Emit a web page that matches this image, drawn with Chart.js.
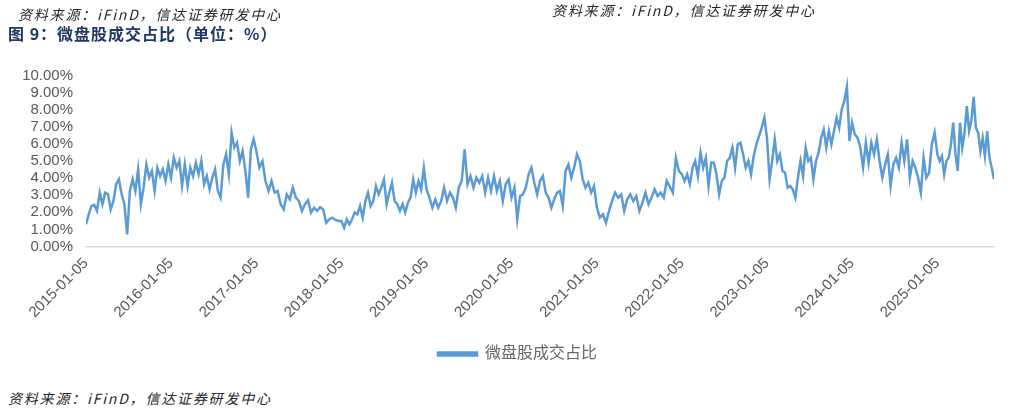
<!DOCTYPE html>
<html lang="zh">
<head>
  <meta charset="UTF-8" />
  <title>微盘股成交占比</title>
  <script src="https://cdn.jsdelivr.net/npm/chart.js"></script>
  <style>
    body {
      margin: 0;
      width: 1035px;
      height: 413px;
      position: relative;
      overflow: hidden;
      background: #fff;
      font-family: 'Liberation Sans', 'Noto Sans CJK SC', sans-serif;
    }
    .src {
      position: absolute;
      font-family: 'Noto Sans CJK SC', sans-serif;
      font-size: 14px;
      font-style: italic;
      letter-spacing: 1.8px;
      color: #262626;
      line-height: 18px;
      white-space: nowrap;
      z-index: 2;
    }
    .title {
      position: absolute;
      font-family: 'Noto Sans CJK SC', sans-serif;
      font-size: 16px;
      font-weight: bold;
      letter-spacing: 1px;
      color: #1f3864;
      line-height: 20px;
      white-space: nowrap;
      z-index: 2;
    }
    #wrap {
      position: absolute;
      left: 0;
      top: 0;
      width: 1035px;
      height: 372px;
    }
  </style>
</head>
<body>
  <div class="src" style="left:18px; top:5px;">资料来源：iFinD，信达证券研发中心</div>
  <div class="src" style="left:552px; top:1px;">资料来源：iFinD，信达证券研发中心</div>
  <div class="title" style="left:8px; top:23px;">图 9：微盘股成交占比（单位：%）</div>
  <div id="wrap"><canvas id="shareChart"></canvas></div>
  <div class="src" style="left:8px; top:389px;">资料来源：iFinD，信达证券研发中心</div>

  <script>
    // Readings in %, in order through each year (Jan 5 to next Jan 5)
    const y2015 = [1.30, 1.88, 2.37, 2.43, 2.08, 3.15, 2.47, 3.15, 3.05, 2.17, 2.66, 3.64, 3.93, 3.05, 2.47, 0.71, 3.25, 3.93, 3.25, 4.51, 2.47, 3.44, 4.80, 4.03, 4.42, 3.25, 4.61, 4.12, 4.51, 3.83, 4.80];
    const y2016 = [4.03, 5.19, 4.61, 5.00, 3.54, 4.80, 3.54, 4.61, 4.12, 4.90, 4.22, 5.00, 3.64, 4.12, 3.34, 4.03, 4.51, 3.25, 2.86, 4.80, 5.39, 4.22, 6.66, 5.78, 6.07, 5.00, 5.58, 4.42, 2.86, 5.68, 6.27];
    const y2017 = [5.58, 4.61, 5.00, 3.83, 3.25, 3.83, 3.15, 3.25, 2.47, 2.17, 3.05, 2.76, 3.44, 2.86, 2.66, 2.08, 2.47, 2.70, 1.98, 2.27, 2.08, 2.30, 2.17, 1.39, 1.60, 1.69, 1.55, 1.49];
    const y2018 = [1.49, 1.10, 1.59, 1.30, 1.59, 1.98, 1.88, 2.37, 1.69, 2.66, 3.15, 2.37, 2.66, 3.54, 3.05, 3.44, 3.93, 2.47, 3.15, 3.73, 2.66, 2.47, 2.08, 2.47, 1.98, 2.56, 2.86, 3.93, 3.15, 3.83, 3.34, 4.61];
    const y2019 = [3.34, 2.86, 2.27, 2.76, 2.27, 2.66, 3.44, 2.66, 3.15, 2.86, 2.27, 3.44, 3.83, 5.68, 3.64, 4.12, 3.44, 4.03, 3.73, 4.12, 3.15, 4.03, 3.25, 4.12, 3.25, 3.83, 2.66, 3.64, 3.93];
    const y2020 = [2.86, 3.44, 1.59, 2.95, 3.05, 3.44, 4.22, 4.61, 3.73, 3.05, 3.83, 4.12, 3.15, 2.86, 2.27, 2.76, 3.15, 3.25, 2.37, 4.42, 4.80, 4.03, 4.61, 5.39, 5.00, 3.93, 3.44, 3.73, 3.15, 3.54];
    const y2021 = [2.27, 1.69, 1.88, 1.39, 2.08, 2.66, 3.15, 2.86, 3.05, 2.08, 2.76, 3.05, 2.66, 2.95, 2.08, 2.56, 3.15, 2.47, 2.86, 3.34, 2.95, 3.15, 2.86, 3.83, 3.50, 3.15, 5.19, 4.42];
    const y2022 = [4.22, 3.83, 4.22, 3.64, 4.61, 5.00, 4.12, 5.49, 4.61, 5.19, 3.54, 4.90, 4.90, 4.22, 3.05, 3.83, 4.03, 5.00, 5.19, 5.78, 4.61, 5.98, 6.07, 5.39, 4.61, 5.00, 4.22, 5.29, 5.98, 6.46, 6.95, 7.53];
    const y2023 = [6.36, 3.93, 5.00, 6.27, 5.00, 5.39, 4.42, 4.32, 3.44, 3.54, 3.34, 2.86, 4.03, 5.00, 4.12, 5.78, 5.00, 5.19, 3.93, 5.00, 5.49, 6.36, 6.85, 5.78, 6.75, 5.98, 6.75, 7.53, 6.95, 8.02, 8.51, 9.33, 6.17];
    const y2024 = [7.24, 6.56, 6.36, 5.78, 4.61, 6.07, 4.90, 6.07, 5.39, 6.27, 5.00, 4.03, 4.80, 5.39, 3.54, 4.80, 5.19, 4.61, 6.07, 5.00, 6.27, 4.03, 5.00, 4.61, 4.03, 3.15, 5.19, 4.03, 4.32, 5.98, 6.66];
    const y2025 = [5.39, 5.00, 5.29, 4.22, 5.00, 5.19, 5.98, 7.24, 5.39, 4.42, 7.24, 5.78, 6.66, 8.21, 6.75, 7.34, 8.75, 6.95, 6.66, 5.58, 6.36, 5.29, 6.75, 5.19, 4.61, 3.93];

    const startDate = '2015-01-05';
    const lastDate = '2025-09-05';
    const tickLabels = ['2015-01-05', '2016-01-05', '2017-01-05', '2018-01-05', '2019-01-05', '2020-01-05',
                        '2021-01-05', '2022-01-05', '2023-01-05', '2024-01-05', '2025-01-05'];
    const seriesName = '微盘股成交占比';

    const dayOf = s => (Date.parse(s) - Date.parse(startDate)) / 864e5;

    // spread each year's readings over that year
    const yearly = [y2015, y2016, y2017, y2018, y2019, y2020, y2021, y2022, y2023, y2024, y2025];
    const points = [];
    yearly.forEach((vals, k) => {
      const year = 2015 + k;
      const last = k === yearly.length - 1;
      const from = dayOf(year + '-01-05');
      const to = last ? dayOf(lastDate) : dayOf((year + 1) + '-01-05');
      const n = last ? vals.length - 1 : vals.length;
      vals.forEach((v, i) => points.push({ x: from + (to - from) * i / n, y: v }));
    });

    const axisFont = { family: "'Liberation Sans', 'Noto Sans CJK SC', sans-serif", size: 15 };
    const grey = '#595959';

    new Chart(document.getElementById('shareChart'), {
      type: 'line',
      data: {
        datasets: [{
          label: seriesName,
          data: points,
          borderColor: '#5b9bd5',
          backgroundColor: '#5b9bd5',
          borderWidth: 2.5,
          pointRadius: 0,
          tension: 0,
          fill: false
        }]
      },
      options: {
        responsive: true,
        maintainAspectRatio: false,
        animation: false,
        layout: { padding: { top: 75.5, right: 0, left: 0, bottom: 0 } },
        scales: {
          x: {
            type: 'linear',
            min: 0,
            max: dayOf(lastDate),
            afterBuildTicks: scale => {
              scale.ticks = tickLabels.map(s => ({ value: dayOf(s) }));
            },
            afterFit: scale => { scale.height = 89.5; },
            ticks: {
              autoSkip: false,
              minRotation: 45,
              maxRotation: 45,
              padding: 8,
              color: grey,
              font: axisFont,
              callback: (value, index) => tickLabels[index]
            },
            grid: { display: false, drawTicks: false },
            border: { display: true, color: '#d9d9d9', width: 1.5 }
          },
          y: {
            min: 0,
            max: 10,
            afterFit: scale => { scale.width = 86; },
            ticks: {
              autoSkip: false,
              stepSize: 1,
              padding: 13,
              color: grey,
              font: axisFont,
              callback: v => v.toFixed(2) + '%'
            },
            grid: { display: false, drawTicks: false },
            border: { display: false }
          },
          // empty right margin so the legend centres on the whole width
          spacer: {
            position: 'right',
            min: 0,
            max: 10,
            afterFit: scale => { scale.width = 41; },
            ticks: { display: false },
            grid: { display: false, drawTicks: false },
            border: { display: false }
          }
        },
        plugins: {
          legend: {
            position: 'bottom',
            labels: {
              color: '#666666',
              font: { family: axisFont.family, size: 16 },
              boxWidth: 39,
              boxHeight: 3,
              padding: 10
            }
          },
          tooltip: { enabled: false }
        }
      }
    });
  </script>
</body>
</html>
